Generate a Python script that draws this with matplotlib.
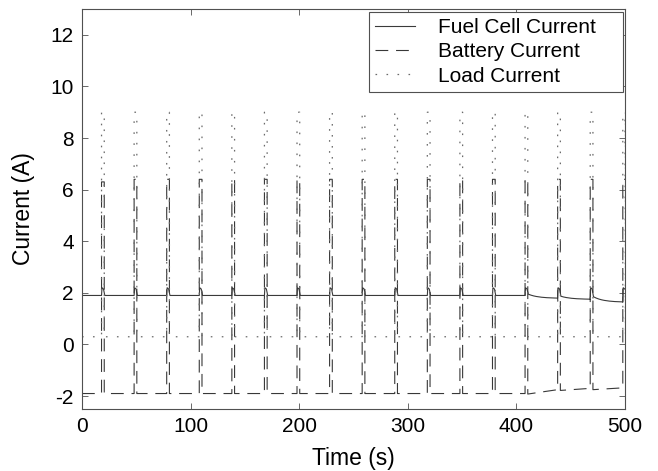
import matplotlib
matplotlib.use("Agg")
import matplotlib.pyplot as plt
import numpy as np

plt.rcParams['font.family'] = ['Liberation Sans', 'DejaVu Sans']
plt.rcParams['axes.unicode_minus'] = False

# pulse start times (s), pulse width ~2.5 s
pulse_start = [18, 48, 78, 108, 138, 168, 198, 228, 258, 288, 318, 348, 378, 408, 438, 468, 498]
pulse_width = 2.5

# load current levels
load_base = 0.3
load_peak = 9.0

# fuel cell: level right after each pulse and level just before the next pulse
fc_after = [1.9, 1.9, 1.9, 1.9, 1.9, 1.9, 1.9, 1.9, 1.9, 1.9, 1.9, 1.9, 1.9, 1.95, 1.87, 1.85, 1.85]
fc_before_next = [1.9, 1.9, 1.9, 1.9, 1.9, 1.9, 1.9, 1.9, 1.9, 1.9, 1.9, 1.9, 1.9, 1.79, 1.75, 1.64, 1.64]
fc_bump = 2.2

# battery: level right after each pulse, level before the next one, peak during pulse
bat_after = [-1.9, -1.9, -1.9, -1.9, -1.9, -1.9, -1.9, -1.9, -1.9, -1.9, -1.9, -1.9, -1.9, -1.92, -1.78, -1.75, -1.75]
bat_before_next = [-1.9, -1.9, -1.9, -1.9, -1.9, -1.9, -1.9, -1.9, -1.9, -1.9, -1.9, -1.9, -1.9, -1.75, -1.7, -1.68, -1.68]
bat_peak = [6.3, 6.4, 6.4, 6.4, 6.4, 6.4, 6.4, 6.4, 6.4, 6.4, 6.4, 6.4, 6.4, 6.4, 6.4, 6.4, 6.4]

t_end = 500

# build the step traces from the read levels
t_fc, y_fc = [0], [1.9]
t_bat, y_bat = [0], [-1.9]
t_ld, y_ld = [0], [load_base]
prev_fc, prev_bat = 1.9, -1.9
for i, t0 in enumerate(pulse_start):
    nxt = pulse_start[i + 1] if i + 1 < len(pulse_start) else t_end
    # fuel cell: small hump during the pulse
    t_fc += [t0, t0 + 0.4, t0 + 1.8]
    y_fc += [prev_fc, fc_bump, fc_bump - 0.05]
    # battery and load: square pulses
    t_bat += [t0, t0, t0 + pulse_width]
    y_bat += [prev_bat, bat_peak[i], bat_peak[i]]
    t_ld += [t0, t0, t0 + pulse_width, t0 + pulse_width]
    y_ld += [load_base, load_peak, load_peak, load_base]
    if t0 + 3 < t_end:
        seg = np.linspace(t0 + 3, nxt, 12)
        a, b = fc_after[i], fc_before_next[i]
        t_fc += list(seg)
        y_fc += list(b + (a - b) * np.exp(-(seg - seg[0]) / 9.0))
        t_bat += [t0 + pulse_width, nxt]
        y_bat += [bat_after[i], bat_before_next[i]]
        prev_fc, prev_bat = fc_before_next[i], bat_before_next[i]
t_ld += [t_end]
y_ld += [load_peak]

fig = plt.figure(figsize=(6.58, 4.71), dpi=100)
ax = fig.add_axes([0.1246, 0.1316, 0.8252, 0.8493])

ax.plot(t_fc, y_fc, color='#3a3a3a', lw=0.8, label='Fuel Cell Current')
ax.plot(t_bat, y_bat, color='#383838', lw=0.8, linestyle=(0, (11.5, 7)), label='Battery Current')
ax.plot(t_ld, y_ld, color='#6a6a6a', lw=0.9, linestyle=(0, (1.3, 7.5)), label='Load Current')

ax.set_xlim(0, 500)
ax.set_ylim(-2.5, 13)
ax.set_xticks([0, 100, 200, 300, 400, 500])
ax.set_yticks([-2, 0, 2, 4, 6, 8, 10, 12])
ax.tick_params(direction='in', top=True, right=True, labelsize=15, length=4.5,
               width=0.6, color='#505050', pad=6)
for s in ax.spines.values():
    s.set_color('#505050')
    s.set_linewidth(0.8)
ax.set_xlabel('Time (s)', fontsize=16.5, labelpad=8)
ax.set_ylabel('Current (A)', fontsize=16.5, labelpad=11)

leg = ax.legend(loc='upper left', bbox_to_anchor=(0.5285, 0.79, 0.4678, 0.2025),
                mode='expand', borderaxespad=0, fontsize=15, fancybox=False,
                framealpha=1, edgecolor='#505050', labelspacing=0.25,
                handlelength=1.9, handletextpad=1.1, borderpad=0.3)
leg.get_frame().set_linewidth(0.8)

fig.savefig('out.png', dpi=100)
